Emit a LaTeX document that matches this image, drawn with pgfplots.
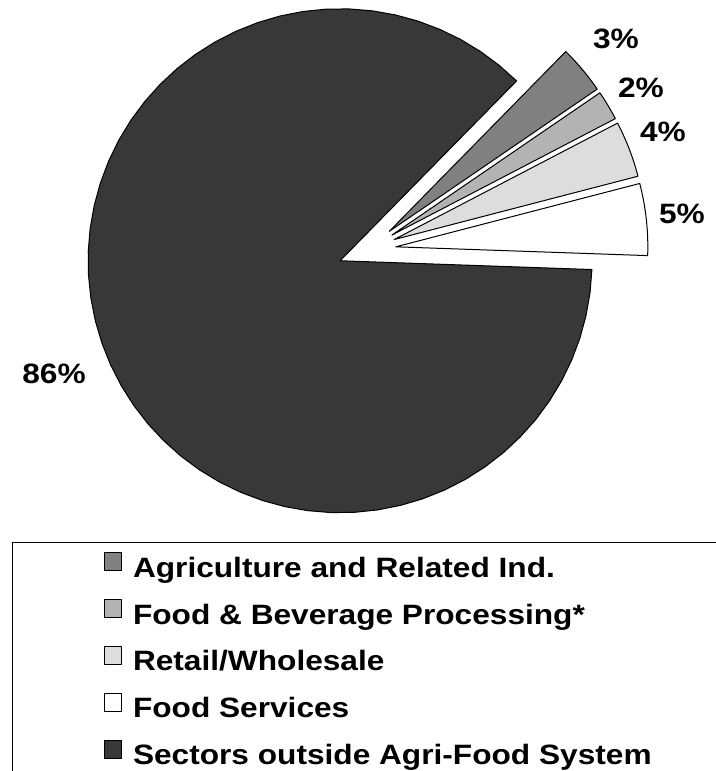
\documentclass[border=0pt]{standalone}
\usepackage{fontspec}
\setmainfont{Liberation Sans}[FakeStretch=1.13]
\usepackage{pgfplots}
\usepackage{pgfplotstable}
\pgfplotsset{compat=1.18}
\definecolor{cAgri}{HTML}{808080}
\definecolor{cFBP}{HTML}{B3B3B3}
\definecolor{cRet}{HTML}{DDDDDD}
\definecolor{cFS}{HTML}{FFFFFF}
\definecolor{cOut}{HTML}{383838}

% shares (percent)
\pgfplotstableread{
key value
Agri 3.1
FBP 1.9
Ret 3.6
FS 4.6
Out 86.8
}\piedata

\newcommand\pieslice[4]{%
  \pgfmathsetmacro\midang{(#1+#2)/2}%
  \pgfmathsetmacro\apx{367+29*cos(\midang)}%
  \pgfmathsetmacro\apy{521+29*sin(\midang)}%
  \edef\doslice{\noexpand\addplot[draw=black, line width=1pt, fill=#3, line join=round,
      samples at={0,1,...,61}]
    ({\apx+and(x>0,x<61)*252*cos(#1+(#2-#1)*(x-1)/59)},
     {\apy+and(x>0,x<61)*252*sin(#1+(#2-#1)*(x-1)/59)}) -- cycle;}%
  \doslice
  \addlegendentry{#4}%
}

\begin{document}
\begin{tikzpicture}
\pgfplotstablegetelem{0}{value}\of\piedata \let\vAgri\pgfplotsretval
\pgfplotstablegetelem{1}{value}\of\piedata \let\vFBP\pgfplotsretval
\pgfplotstablegetelem{2}{value}\of\piedata \let\vRet\pgfplotsretval
\pgfplotstablegetelem{3}{value}\of\piedata \let\vFS\pgfplotsretval
\pgfplotstablegetelem{4}{value}\of\piedata \let\vOut\pgfplotsretval
\pgfmathsetmacro\tot{\vAgri+\vFBP+\vRet+\vFS+\vOut}
\pgfmathsetmacro\aFS{-2}
\pgfmathsetmacro\bFS{\aFS+(\vFS/\tot)*360}
\pgfmathsetmacro\bRet{\bFS+(\vRet/\tot)*360}
\pgfmathsetmacro\bFBP{\bRet+(\vFBP/\tot)*360}
\pgfmathsetmacro\bAgri{\bFBP+(\vAgri/\tot)*360}
\pgfmathsetmacro\bOut{\bAgri+(\vOut/\tot)*360}
\begin{axis}[
  at={(0,0)}, anchor=south west,
  x=1pt, y=1pt, xmin=0, xmax=715, ymin=0, ymax=771,
  hide axis, clip=false,
  legend style={at={(0.1455,0.2840)}, anchor=north west, draw=none, fill=none,
    inner sep=0pt, row sep=16pt, column sep=11pt,
    font=\fontsize{28}{34}\selectfont\bfseries,
    nodes={inner sep=0pt, text height=20pt, text depth=6pt}},
  legend cell align=left,
  legend image code/.code={\draw[#1, line width=0.8pt] (0pt,-0.5pt) rectangle (17pt,17.5pt);},
]
\pieslice{\bFBP}{\bAgri}{cAgri}{Agriculture and Related Ind.}
\pieslice{\bRet}{\bFBP}{cFBP}{Food \& Beverage Processing*}
\pieslice{\bFS}{\bRet}{cRet}{Retail/Wholesale}
\pieslice{\aFS}{\bFS}{cFS}{Food Services}
\pieslice{\bAgri}{\bOut}{cOut}{Sectors outside Agri-Food System}
\begin{scope}[font=\fontsize{28}{34}\selectfont\bfseries]
\node at (axis cs:616,732) {3\%};
\node at (axis cs:641,683) {2\%};
\node at (axis cs:663,639) {4\%};
\node at (axis cs:682,557) {5\%};
\node at (axis cs:54,397) {86\%};
\end{scope}
\draw[line width=1pt] (axis cs:740,228) -- (axis cs:12,228) -- (axis cs:12,-40);
\end{axis}
\pgfresetboundingbox
\useasboundingbox (0,0) rectangle (715pt,771pt);
\end{tikzpicture}
\end{document}
